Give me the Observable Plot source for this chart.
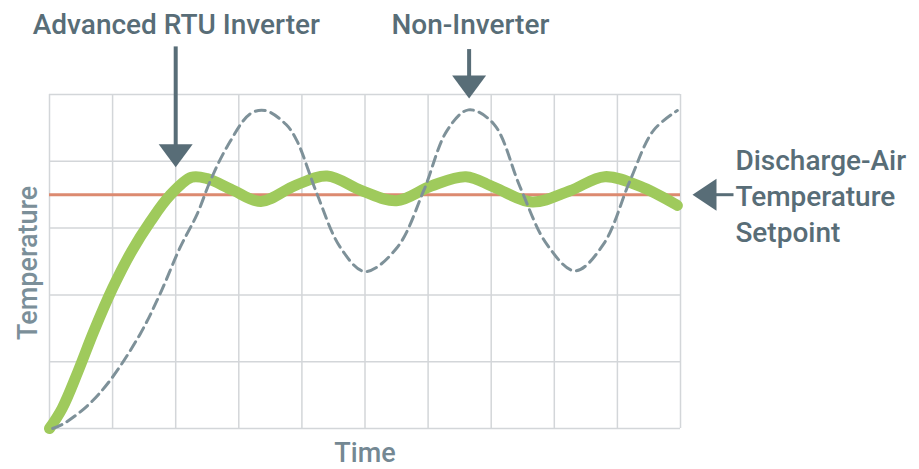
<!DOCTYPE html>
<html><head><meta charset="utf-8">
<script src="https://cdn.jsdelivr.net/npm/d3@7"></script>
<script src="https://cdn.jsdelivr.net/npm/@observablehq/plot@0.6"></script>
<style>html,body{margin:0;padding:0;background:#fff}</style>
</head><body><div id="chart"></div>
<script>
// grid positions (time units / temperature units)
const xTicks = [0,1,2,3,4,5,6,7,8,9,10];
const yTicks = [0,1,2,3,4,5];
const setpoint = 3.5;

// Advanced RTU Inverter (thick green)
const inverterX = [0, 0.2, 0.45, 0.7, 1.0, 1.3, 1.6, 1.9, 2.25, 2.5, 2.9, 3.35, 3.9, 4.4, 4.95, 5.5, 6.05, 6.6, 7.05, 7.65, 8.25, 8.8, 9.4, 9.95];
const inverterY = [0, 0.3, 0.85, 1.45, 2.1, 2.65, 3.1, 3.48, 3.76, 3.74, 3.57, 3.40, 3.64, 3.78, 3.56, 3.41, 3.63, 3.77, 3.61, 3.39, 3.56, 3.77, 3.61, 3.34];

// Non-Inverter (dashed gray)
const nonInverterX = [0.05, 0.22, 0.6, 0.96, 1.44, 1.75, 2.07, 2.34, 2.55, 2.81, 3.18, 3.42, 3.75, 3.92, 4.24, 4.61, 5.0, 5.51, 5.93, 6.3, 6.64, 7.04, 7.46, 7.88, 8.33, 8.78, 9.2, 9.57, 9.95];
const nonInverterY = [0, 0.07, 0.34, 0.72, 1.42, 2.01, 2.71, 3.21, 3.71, 4.21, 4.71, 4.76, 4.55, 4.31, 3.51, 2.71, 2.35, 2.71, 3.56, 4.46, 4.77, 4.56, 3.61, 2.76, 2.36, 2.76, 3.71, 4.46, 4.76];

// annotations (in data units)
const seriesLabels = ["Advanced RTU Inverter", "Non-Inverter"];
const seriesLabelX = [2.01, 6.67];
const seriesLabelY = [5.9, 5.9];
const downArrowX = [2.0, 6.65];
const downArrowTipY = [3.91, 4.94];
const downArrowTopY = [5.72, 5.68];
const setpointLabel = "Discharge-Air\nTemperature\nSetpoint";
const setpointArrowTipX = 10.19;
const setpointArrowEndX = 10.84;
const setpointLabelX = 10.87;
const xLabel = "Time";
const yLabel = "Temperature";

const inverter = inverterX.map((x, i) => ({x, y: inverterY[i]}));
const nonInverter = nonInverterX.map((x, i) => ({x, y: nonInverterY[i]}));
const seriesText = seriesLabels.map((t, i) => ({t, x: seriesLabelX[i], y: seriesLabelY[i]}));
const downArrows = downArrowX.map((x, i) => ({x, tip: downArrowTipY[i], top: downArrowTopY[i]}));

const dark = "#586d77";
const font = "Roboto, 'Liberation Sans', sans-serif";

const downTri = {draw(ctx) { ctx.moveTo(-17, -23); ctx.lineTo(17, -23); ctx.lineTo(0, 0); ctx.closePath(); }};
const leftTri = {draw(ctx) { ctx.moveTo(0, 0); ctx.lineTo(24, -16); ctx.lineTo(24, 16); ctx.closePath(); }};

const chart = Plot.plot({
  width: 919,
  height: 469,
  marginLeft: 49,
  marginRight: 239,
  marginTop: 94,
  marginBottom: 41,
  style: {background: "#fff", overflow: "visible"},
  x: {domain: [0, 10], axis: null},
  y: {domain: [0, 5], axis: null},
  marks: [
    Plot.ruleX(xTicks, {x: d => d, y1: 0, y2: 5, stroke: "#d3d6d9", strokeWidth: 1.5}),
    Plot.ruleY(yTicks, {y: d => d, x1: 0, x2: 10, stroke: "#d3d6d9", strokeWidth: 1.5}),
    Plot.ruleY([setpoint], {y: d => d, x1: 0, x2: 10, stroke: "#dc8a70", strokeWidth: 3}),
    Plot.line(inverter, {x: "x", y: "y", curve: "catmull-rom", stroke: "#9fca5c", strokeWidth: 11, strokeLinecap: "round"}),
    Plot.line(nonInverter, {x: "x", y: "y", curve: "catmull-rom", stroke: "#7e9199", strokeWidth: 3, strokeDasharray: "10,6"}),
    // arrows
    Plot.link(downArrows, {x1: "x", x2: "x", y1: "top", y2: d => d.tip + 0.2, stroke: dark, strokeWidth: 4}),
    Plot.dot(downArrows, {x: "x", y: "tip", symbol: downTri, fill: dark, stroke: "none"}),
    Plot.link([setpoint], {x1: setpointArrowTipX + 0.2, x2: setpointArrowEndX, y1: d => d, y2: d => d, stroke: dark, strokeWidth: 3}),
    Plot.dot([setpoint], {x: () => setpointArrowTipX, y: d => d, symbol: leftTri, fill: dark, stroke: "none"}),
    // text
    Plot.text(seriesText, {x: "x", y: "y", text: "t", textAnchor: "middle", lineAnchor: "bottom", fontSize: 28, fontFamily: font, fontWeight: 500, fill: dark}),
    Plot.text([setpointLabel], {x: () => setpointLabelX, y: () => setpoint, text: d => d, textAnchor: "start", lineAnchor: "middle", lineHeight: 1.28, fontSize: 28, fontFamily: font, fontWeight: 500, fill: dark}),
    Plot.text([xLabel], {x: () => 5, y: () => -0.5, text: d => d, textAnchor: "middle", lineAnchor: "bottom", fontSize: 27, fontFamily: font, fontWeight: 500, fill: "#748893"}),
    Plot.text([yLabel], {x: () => -0.33, y: () => 2.48, text: d => d, rotate: -90, textAnchor: "middle", lineAnchor: "middle", fontSize: 27, fontFamily: font, fontWeight: 500, fill: "#7b8f99"})
  ]
});
document.getElementById("chart").appendChild(chart);
</script>
</body></html>
